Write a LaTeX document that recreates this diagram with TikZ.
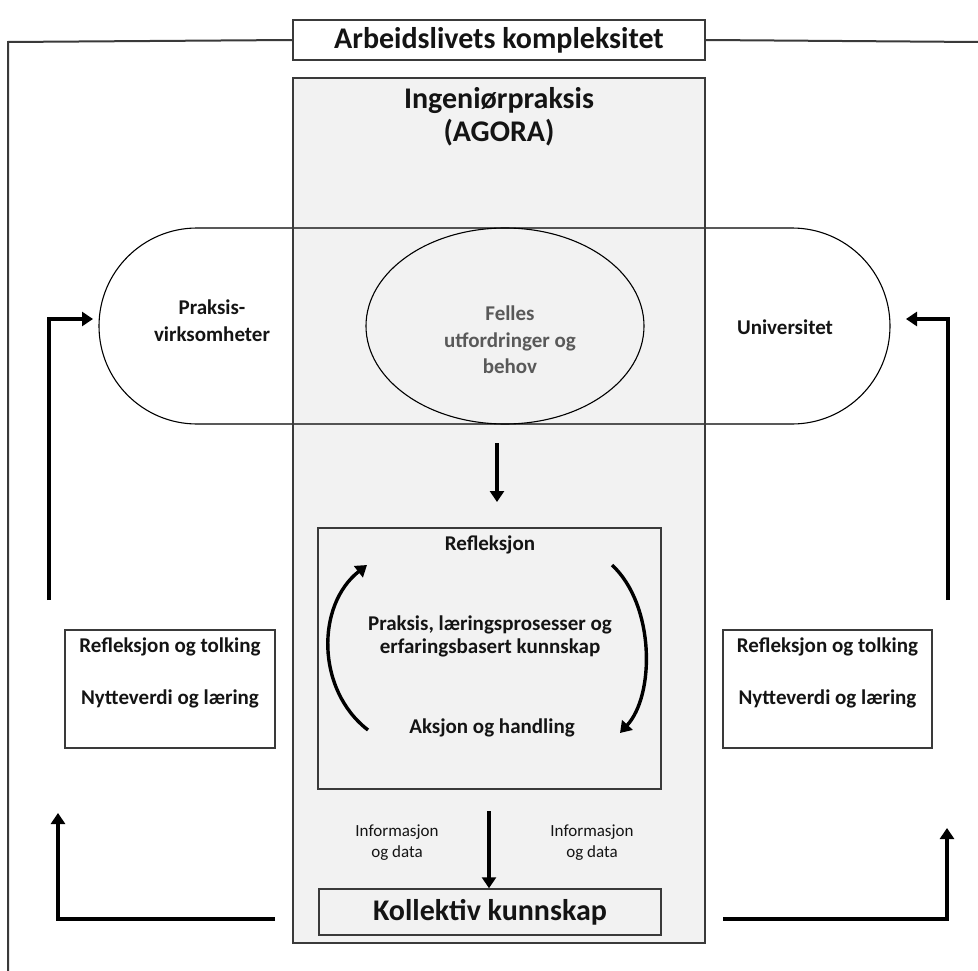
\documentclass[tikz,border=0pt]{standalone}
\usepackage{fontspec}
\setmainfont{Carlito}
\usetikzlibrary{arrows.meta,shapes.geometric}
\definecolor{boxgray}{HTML}{F2F2F2}
\definecolor{edge}{HTML}{3A3A3A}
\definecolor{txt}{HTML}{141414}
\definecolor{ftxt}{HTML}{595959}
\tikzset{
  frameline/.style={draw=edge,line width=2pt},
  boxst/.style={draw=edge,line width=1.5pt,inner sep=0pt,text=txt},
  thinline/.style={draw=black,line width=1.1pt},
  arr/.style={draw=black,line width=3.4pt,-{Triangle[width=14pt,length=11pt]}},
  lbl/.style={inner sep=0pt,text=txt,align=center,font=\bfseries\fontsize{21}{23}\selectfont},
  small/.style={inner sep=0pt,text=txt,align=center,font=\fontsize{17}{21}\selectfont},
}
\begin{document}
\begin{tikzpicture}[x=1pt,y=-1pt]
\useasboundingbox (0,0) rectangle (978,971);
\fill[white] (0,0) rectangle (978,971);
% outer frame
\coordinate (fbl) at (8,971);
\coordinate (ftl) at (8,42);
\coordinate (ftr) at (978,42);
% central grey box
\node[fill=boxgray,minimum width=412pt,minimum height=865pt,inner sep=0pt] (agora) at (499,510.5) {};
% title
\node[boxst,fill=white,minimum width=412pt,minimum height=40pt,font=\bfseries\fontsize{30}{34}\selectfont] (title) at (499,40) {Arbeidslivets kompleksitet};
\draw[frameline] (title.west) -- (ftl) -- (fbl);
\draw[frameline] (title.east) -- (ftr);
% stadium and ellipse
\draw[thinline] (197,228) -- (792,228) arc[start angle=90,end angle=-90,radius=98pt] -- (197,424) arc[start angle=-90,end angle=-270,radius=98pt] -- cycle;
\node[draw=black,line width=1.1pt,ellipse,minimum width=278pt,minimum height=196pt,inner sep=0pt] (felles) at (505,326) {};
% grey box border on top
\draw[boxst,fill=none] (agora.north west) rectangle (agora.south east);
\node[inner sep=0pt,text=txt,align=center,font=\bfseries\fontsize{30}{33}\selectfont] (agoratxt) at (499,117) {Ingeniørpraksis\\(AGORA)};
\node[lbl,text=ftxt,font=\bfseries\fontsize{21}{26.5}\selectfont] (fellestxt) at (510,340) {Felles\\utfordringer og\\behov};
\node[lbl,font=\bfseries\fontsize{21}{27}\selectfont] (praksis) at (212,321) {Praksis-\\virksomheter};
\node[lbl] (univ) at (785,327) {Universitet};
% reflection box
\node[boxst,minimum width=343pt,minimum height=261pt] (refl) at (489.5,658.5) {};
\node[lbl] (reflt) at (490,545) {Refleksjon};
\node[lbl] (prakt) at (490,636) {Praksis, læringsprosesser og\\erfaringsbasert kunnskap};
\node[lbl] (aksjon) at (492,728) {Aksjon og handling};
% kollektiv
\node[boxst,minimum width=342pt,minimum height=46pt,font=\bfseries\fontsize{30}{34}\selectfont] (koll) at (490,912) {Kollektiv kunnskap};
% info texts
\node[small] (infoL) at (397,843) {Informasjon\\og data};
\node[small] (infoR) at (592,843) {Informasjon\\og data};
% side boxes
\node[boxst,fill=white,minimum width=210pt,minimum height=118pt] (leftbox) at (170,689) {};
\node[lbl] (lt1) at (170,647) {Refleksjon og tolking};
\node[lbl] (lt2) at (170,699) {Nytteverdi og læring};
\node[boxst,fill=white,minimum width=209pt,minimum height=118pt] (rightbox) at (827.5,689) {};
\node[lbl] (rt1) at (827.5,647) {Refleksjon og tolking};
\node[lbl] (rt2) at (827.5,699) {Nytteverdi og læring};
% arrows
\coordinate (a1s) at (497,443);
\coordinate (a1e) at (497,502);
\draw[arr] (a1s) -- (a1e);
\coordinate (a2s) at (489,811);
\draw[arr] (a2s) -- (koll.north -| a2s);
% cycle arrows
\coordinate (cl1) at (368,730);
\coordinate (cl2) at (367,565);
\draw[arr] (cl1) .. controls (316,690) and (316,605) .. (cl2);
\coordinate (cr1) at (612,565);
\coordinate (cr2) at (620,733);
\draw[arr] (cr1) .. controls (655,605) and (655,695) .. (cr2);
% bottom feedback arrows
\coordinate (bl1) at (275,919);
\coordinate (bl2) at (58,919);
\coordinate (bl3) at (58,813);
\draw[arr] (bl1) -- (bl2) -- (bl3);
\coordinate (br1) at (723,919);
\coordinate (br2) at (947,919);
\coordinate (br3) at (947,828);
\draw[arr] (br1) -- (br2) -- (br3);
% upper feedback arrows
\coordinate (ul1) at (49,600);
\coordinate (ul2) at (49,319);
\coordinate (ul3) at (93,319);
\draw[arr] (ul1) -- (ul2) -- (ul3);
\coordinate (ur1) at (948,600);
\coordinate (ur2) at (948,319);
\coordinate (ur3) at (906,319);
\draw[arr] (ur1) -- (ur2) -- (ur3);
\end{tikzpicture}
\end{document}
